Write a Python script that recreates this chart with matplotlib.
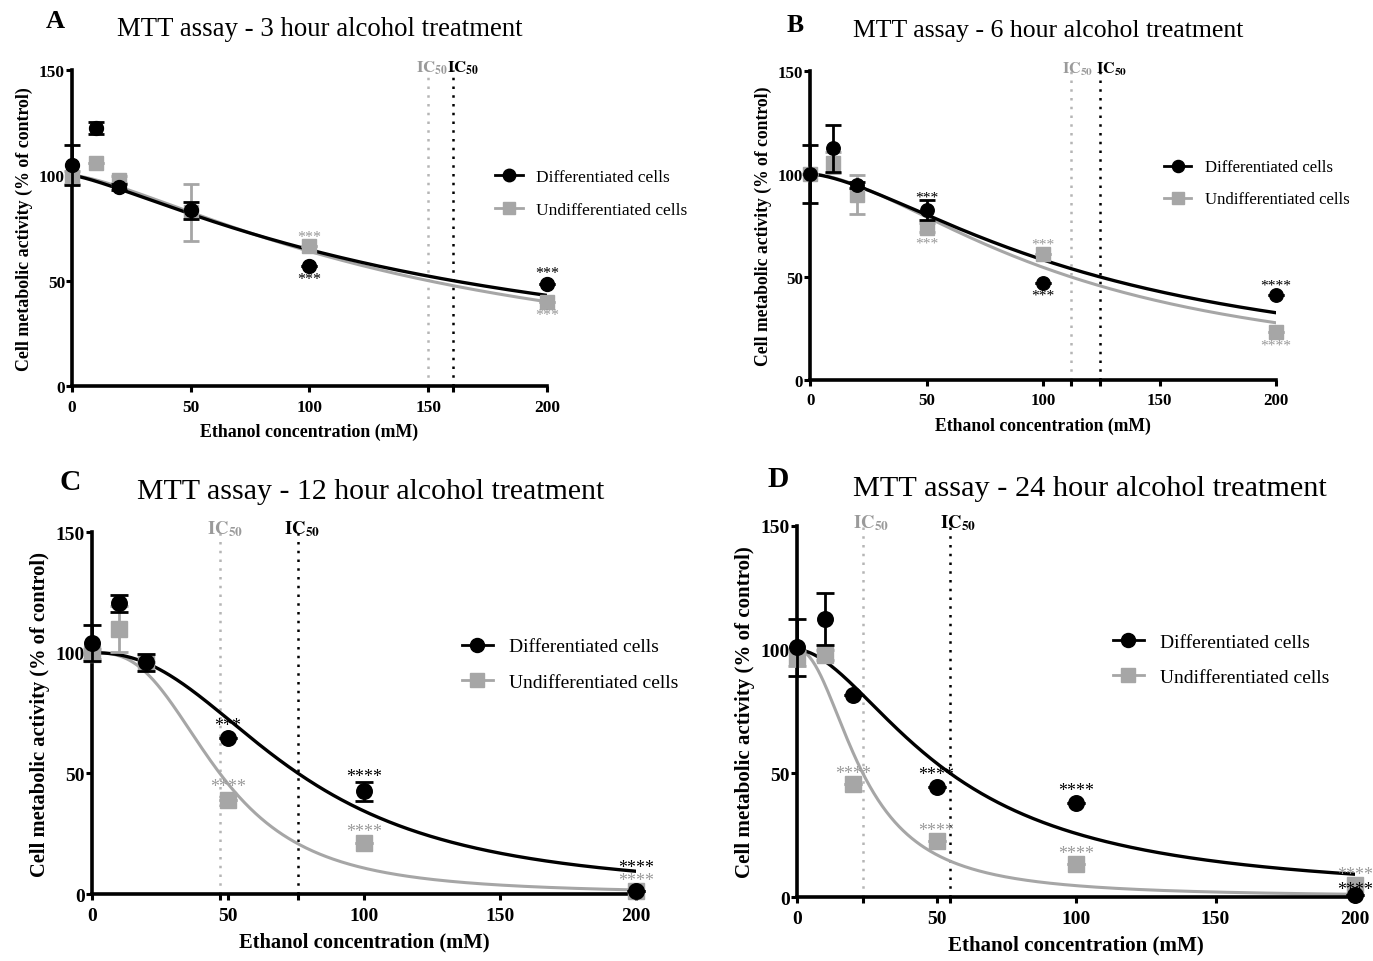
import numpy as np
import matplotlib
matplotlib.use("Agg")
import matplotlib.pyplot as plt
from matplotlib.lines import Line2D

plt.rcParams['font.family'] = ['Liberation Serif', 'DejaVu Serif']
plt.rcParams['mathtext.fontset'] = 'stix'

BLACK = '#000000'
GREY = '#a6a6a6'
GREY_TXT = '#9a9a9a'

conc = [0, 10, 20, 50, 100, 200]
x_ticks = [0, 50, 100, 150, 200]
y_ticks = [0, 50, 100, 150]

panel_letters = ['A', 'B', 'C', 'D']
panel_titles = ['MTT assay - 3 hour alcohol treatment',
                'MTT assay - 6 hour alcohol treatment',
                'MTT assay - 12 hour alcohol treatment',
                'MTT assay - 24 hour alcohol treatment']

# Differentiated cells (mean, error)
diff_A = [105, 122.5, 94.5, 83.5, 57, 48.5]
diff_A_err = [9.5, 3, 1.5, 4, 0, 0]
diff_B = [100, 112.5, 94.5, 82.5, 47, 41]
diff_B_err = [14, 11.5, 1.5, 5, 0, 0]
diff_C = [104, 120.5, 96, 64.5, 42.5, 1.2]
diff_C_err = [7.5, 3.5, 3.5, 0, 4, 0]
diff_D = [101, 112.5, 81.7, 44.5, 38, 0.8]
diff_D_err = [11.5, 10.5, 0, 0, 0, 0]

# Undifferentiated cells (mean, error)
undiff_A = [99, 106, 98, 82.5, 66.5, 40]
undiff_A_err = [3, 0, 1.5, 13.5, 0, 0]
undiff_B = [100, 105.5, 90, 74, 61, 23.5]
undiff_B_err = [0, 5, 9.5, 2, 0, 0]
undiff_C = [99.5, 110, 96, 39, 21, 1.2]
undiff_C_err = [2, 9.5, 0, 0, 0, 0]
undiff_D = [96.5, 98, 45.5, 22.5, 13.5, 5]
undiff_D_err = [3, 2, 0, 0, 0, 0]

# Fitted curve parameters (IC50, Hill slope)
ic50_diff = [160.5, 124.5, 75.8, 54.9]
hill_diff = [1.28, 1.53, 2.33, 1.77]
ic50_undiff = [150, 112, 47, 23.6]
hill_undiff = [1.41, 1.65, 2.8, 2.1]

# significance stars: (x, y, text, series) series 0 = diff, 1 = undiff
stars_A = [(100, 70.5, '***', 1), (100, 51, '***', 0), (200, 53.5, '***', 0), (200, 33.5, '***', 1)]
stars_B = [(50, 89, '***', 0), (50, 66.5, '***', 1), (100, 66, '***', 1), (100, 41, '***', 0),
           (200, 46, '****', 0), (200, 17, '****', 1)]
stars_C = [(50, 70, '***', 0), (100, 48.5, '****', 0), (50, 44.5, '****', 1), (100, 26, '****', 1),
           (200, 11, '****', 0), (200, 5.5, '****', 1)]
stars_D = [(20, 50, '****', 1), (50, 49.5, '****', 0), (50, 27, '****', 1), (100, 43, '****', 0),
           (100, 17.5, '****', 1), (200, 9, '****', 1), (200, 3, '****', 0)]

diffs = [(diff_A, diff_A_err), (diff_B, diff_B_err), (diff_C, diff_C_err), (diff_D, diff_D_err)]
undiffs = [(undiff_A, undiff_A_err), (undiff_B, undiff_B_err), (undiff_C, undiff_C_err), (undiff_D, undiff_D_err)]
stars = [stars_A, stars_B, stars_C, stars_D]

# layout (figure fractions) and sizes
rects = [[0.0524, 0.5977, 0.3460, 0.3285],
         [0.5900, 0.6040, 0.3394, 0.3212],
         [0.0670, 0.0696, 0.3962, 0.3763],
         [0.5805, 0.0665, 0.4064, 0.3857]]
scale = [1.0, 0.97, 1.12, 1.12]
title_size = [19.3, 18.5, 21.5, 21.8]
label_size = [12.9, 12.7, 14.8, 15.1]
tick_size = [12.5, 12.2, 14.0, 14.0]
legend_size = [12.5, 12.1, 14.0, 14.0]
ic_off_grey = [-12, -9, -13, -10]
ic_off_black = [-6, -4, -14, -10]
letter_pos = [(55, 22), (795, 25), (70, 483), (778, 480)]
title_pos = [(320, 29), (1048, 31), (371, 492), (1090, 489)]
legend_anchor = [(0.89, 0.61), (0.76, 0.636), (0.68, 0.635), (0.566, 0.64)]
legend_spacing = [0.95, 0.95, 0.9, 0.9]

fig = plt.figure(figsize=(13.73, 9.62), dpi=100)
W, H = 1373, 962


def hill_curve(x, ic50, h):
    return 100.0 / (1.0 + (x / ic50) ** h)


for i in range(4):
    s = scale[i]
    ax = fig.add_axes(rects[i])
    xs = np.linspace(0, 200, 400)
    # IC50 lines
    ax.axvline(ic50_undiff[i], color='#b5b5b5', ls=(0, (1, 2.5)), lw=1.8, zorder=1)
    ax.axvline(ic50_diff[i], color=BLACK, ls=(0, (1, 2.5)), lw=1.8, zorder=1)
    ax.annotate(r'$\mathbf{IC_{50}}$', xy=(ic50_undiff[i], 150),
                xytext=(ic_off_grey[i] * 0.72, -1),
                textcoords='offset points', ha='left', va='baseline', color=GREY_TXT,
                fontsize=12 * s, annotation_clip=False)
    ax.annotate(r'$\mathbf{IC_{50}}$', xy=(ic50_diff[i], 150),
                xytext=(ic_off_black[i] * 0.72, -1),
                textcoords='offset points', ha='left', va='baseline', color=BLACK,
                fontsize=12 * s, annotation_clip=False)

    # curves
    ax.plot(xs, hill_curve(xs, ic50_undiff[i], hill_undiff[i]), color=GREY, lw=2.2, zorder=2)
    ax.plot(xs, hill_curve(xs, ic50_diff[i], hill_diff[i]), color=BLACK, lw=2.4, zorder=3)

    uy, ue = undiffs[i]
    dy, de = diffs[i]
    ax.errorbar(conc, uy, yerr=ue, fmt='s', color=GREY, ms=10 * s, capsize=6 * s,
                elinewidth=2, capthick=2, clip_on=False, zorder=4)
    ax.errorbar(conc, dy, yerr=de, fmt='o', color=BLACK, ms=10 * s, capsize=6 * s,
                elinewidth=2, capthick=2, clip_on=False, zorder=5)

    for (sx, sy, txt, ser) in stars[i]:
        ax.text(sx, sy, txt, ha='center', va='center', fontsize=11.5 * s,
                color=BLACK if ser == 0 else GREY_TXT, zorder=6, clip_on=False)

    ax.set_xlim(0, 200)
    ax.set_ylim(0, 150)
    ax.set_xticks(x_ticks)
    ax.set_yticks(y_ticks)
    ax.set_xticks([ic50_undiff[i], ic50_diff[i]], minor=True)
    ax.tick_params(which='both', direction='out', length=4, width=2.2,
                   labelsize=tick_size[i])
    ax.tick_params(axis='x', which='both', pad=5)
    ax.tick_params(axis='y', which='both', pad=1)
    for lab in ax.get_xticklabels() + ax.get_yticklabels():
        lab.set_fontweight('bold')
    for sp in ['top', 'right']:
        ax.spines[sp].set_visible(False)
    for sp in ['left', 'bottom']:
        ax.spines[sp].set_linewidth(2.6)
    ax.set_xlabel('Ethanol concentration (mM)', fontsize=label_size[i], fontweight='bold',
                  labelpad=6)
    ax.set_ylabel('Cell metabolic activity (% of control)', fontsize=label_size[i],
                  fontweight='bold', labelpad=4)

    handles = [Line2D([], [], color=BLACK, marker='o', ms=9 * s, lw=2),
               Line2D([], [], color=GREY, marker='s', ms=9 * s, lw=2)]
    ax.legend(handles, ['Differentiated cells', 'Undifferentiated cells'],
              loc='center left', bbox_to_anchor=legend_anchor[i], frameon=False,
              borderpad=0, borderaxespad=0,
              fontsize=legend_size[i], handlelength=1.6, handletextpad=0.8,
              labelspacing=legend_spacing[i])

    lx, ly = letter_pos[i]
    fig.text(lx / W, 1 - ly / H, panel_letters[i], ha='center', va='center',
             fontsize=19 * s, fontweight='bold')
    tx, ty = title_pos[i]
    fig.text(tx / W, 1 - ty / H, panel_titles[i], ha='center', va='center',
             fontsize=title_size[i])

fig.savefig('out.png', dpi=100)
